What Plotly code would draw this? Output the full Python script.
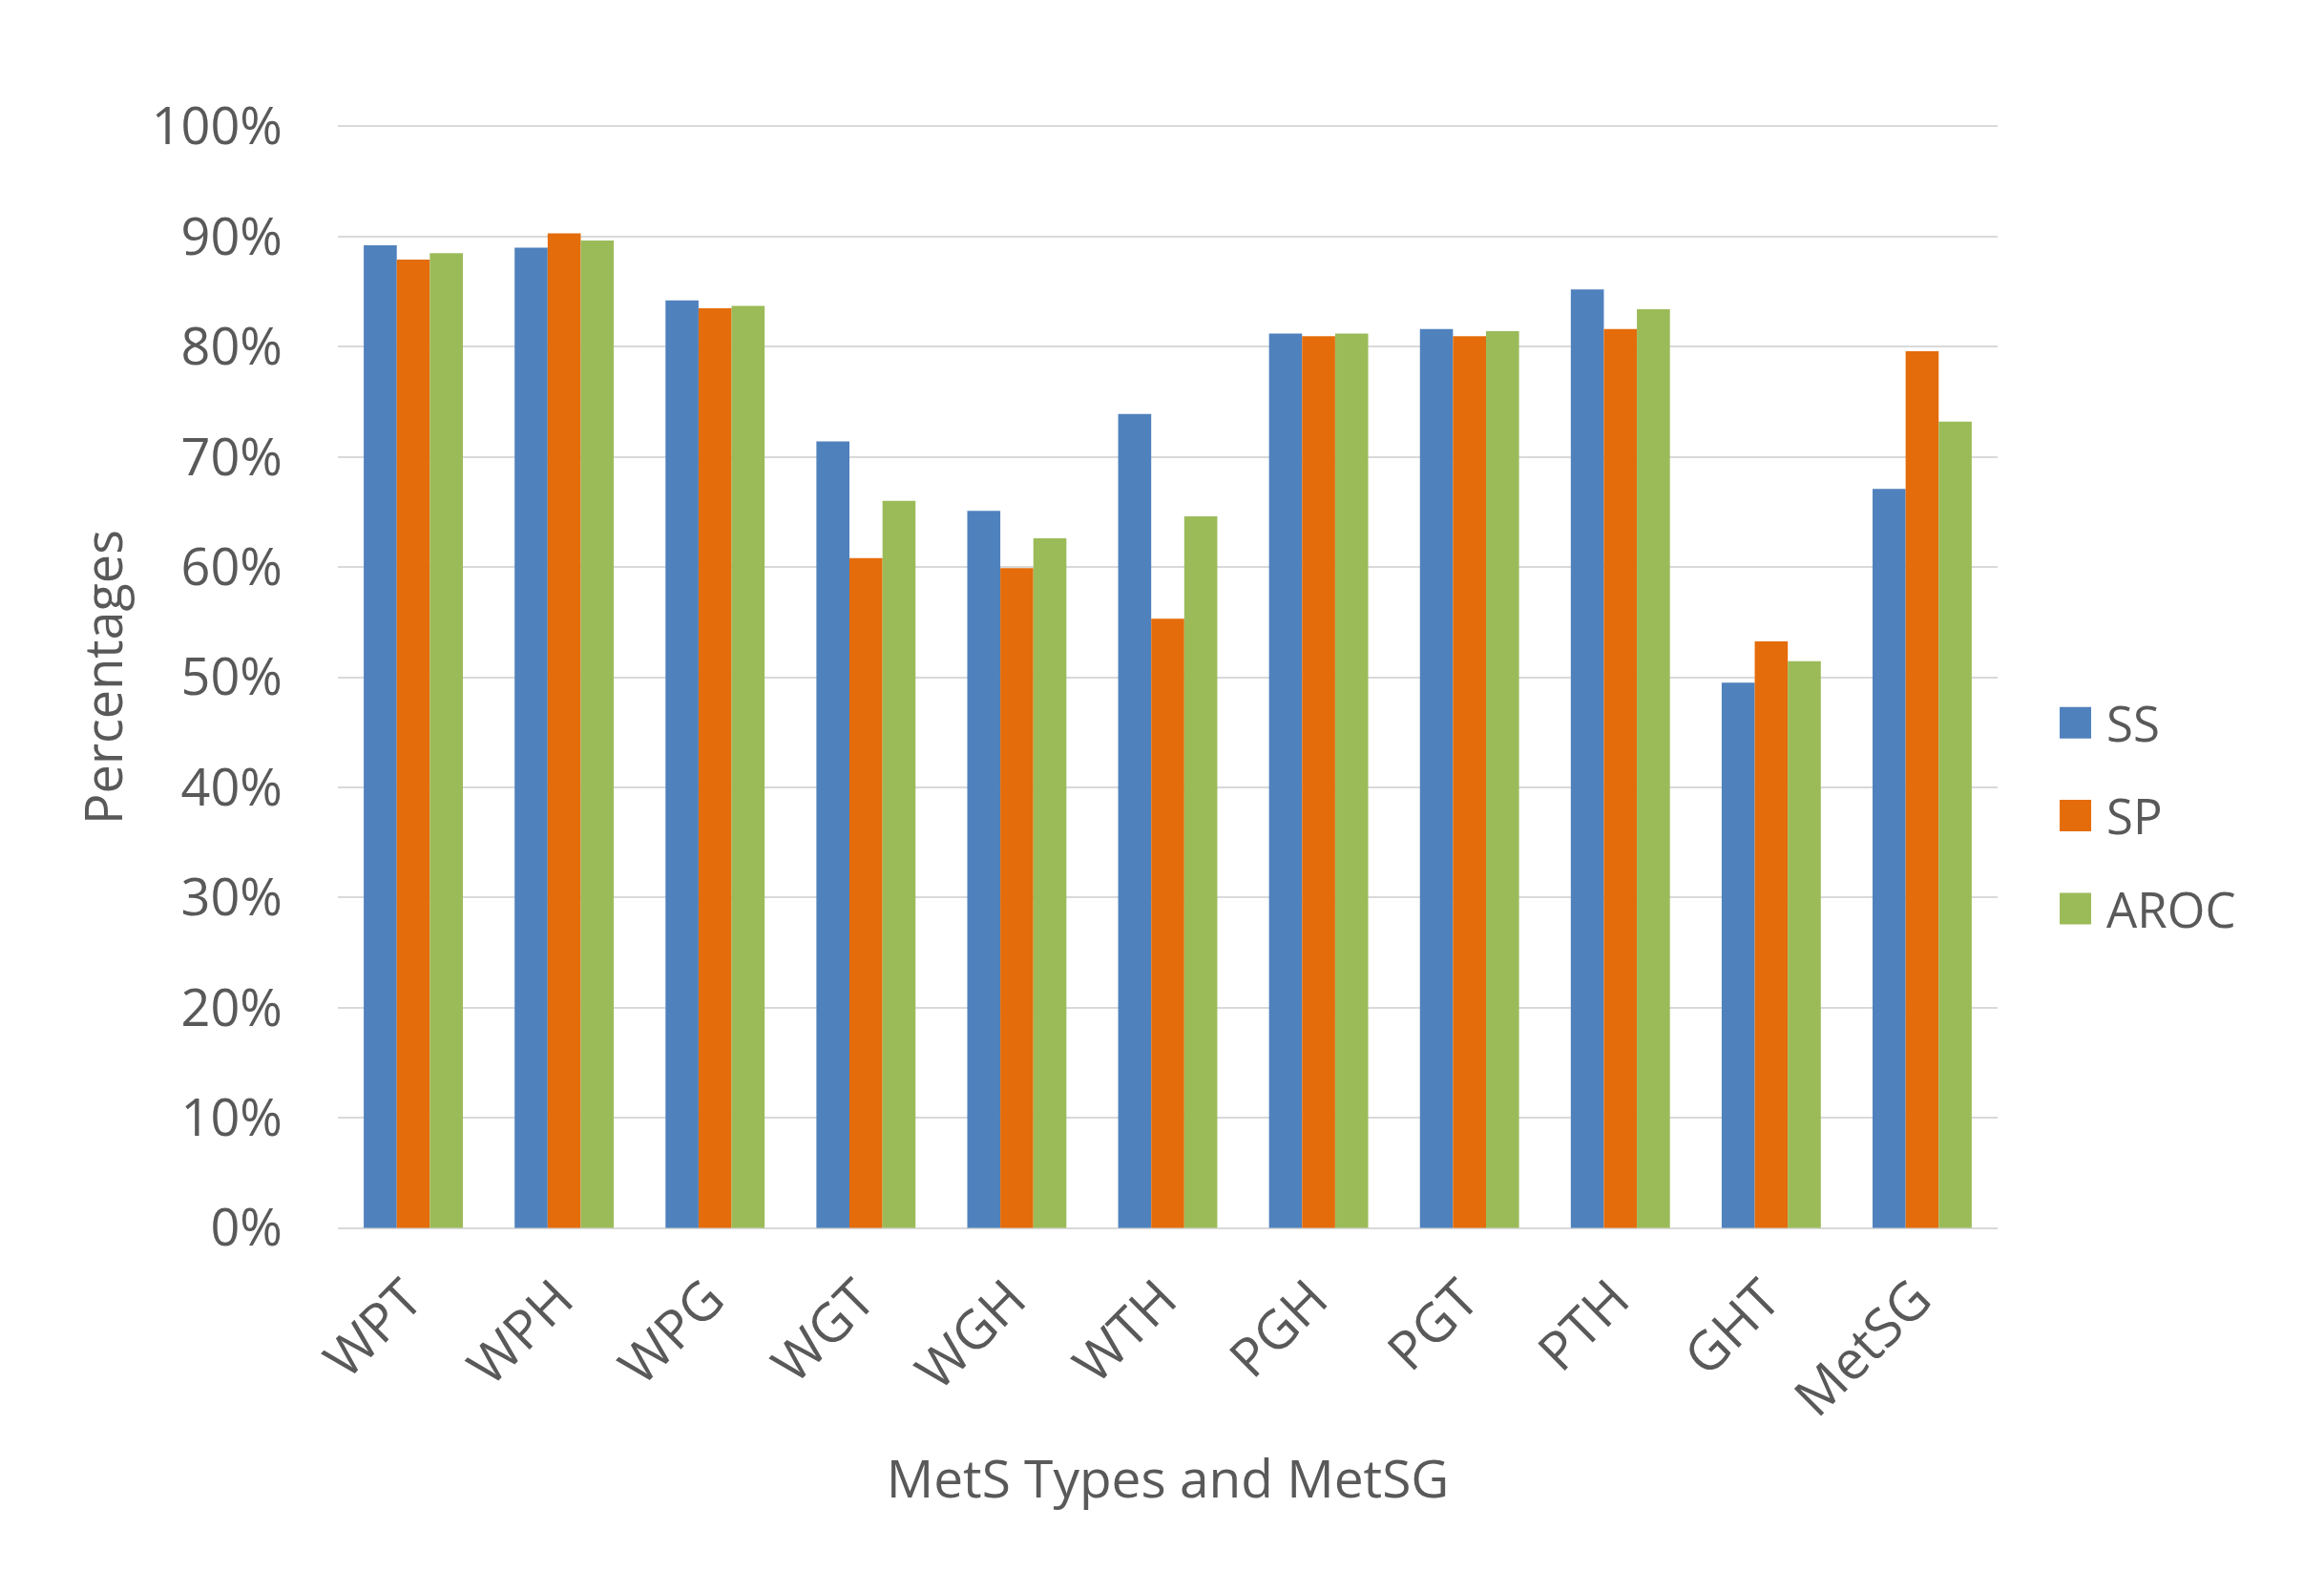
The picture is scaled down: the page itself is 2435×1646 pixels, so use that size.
import plotly.graph_objects as go

categories = ["WPT", "WPH", "WPG", "WGT", "WGH", "WTH", "PGH", "PGT", "PTH", "GHT", "MetSG"]
ss = [89.2, 89.0, 84.2, 71.4, 65.1, 73.9, 81.2, 81.6, 85.2, 49.5, 67.1]
sp = [87.9, 90.3, 83.5, 60.8, 59.9, 55.3, 80.95, 80.95, 81.6, 53.25, 79.6]
aroc = [88.5, 89.65, 83.7, 66.0, 62.6, 64.6, 81.2, 81.4, 83.4, 51.45, 73.2]
y_tick_vals = [0, 10, 20, 30, 40, 50, 60, 70, 80, 90, 100]
y_tick_text = ["0%", "10%", "20%", "30%", "40%", "50%", "60%", "70%", "80%", "90%", "100%"]

series = [("SS", ss, "#4F81BD"), ("SP", sp, "#E46C0A"), ("AROC", aroc, "#9BBB59")]

FONT = "Open Sans"
GREY = "#595959"

fig = go.Figure()
for name, vals, color in series:
    fig.add_trace(go.Bar(
        x=categories, y=vals, name=name, legendgroup=name,
        marker=dict(color=color, line=dict(width=0)),
    ))

fig.update_layout(
    width=2427, height=1638,
    paper_bgcolor="white", plot_bgcolor="white",
    margin=dict(l=346, r=342, t=121, b=356, autoexpand=False),
    barmode="group", bargap=0.343, bargroupgap=0,
    font=dict(family=FONT, color=GREY, size=52),
    legend=dict(
        x=1.0282, xanchor="left", y=0.375, yanchor="middle",
        font=dict(family=FONT, size=51, color=GREY),
        traceorder="grouped", tracegroupgap=28,
        itemwidth=55, bgcolor="rgba(0,0,0,0)", borderwidth=0,
    ),
    xaxis=dict(
        tickangle=-45, tickfont=dict(family=FONT, size=56, color=GREY),
        showgrid=False, showline=False, zeroline=False, ticks="",
        ticklabelstandoff=26, ticklabelshift=-7,
        title=dict(text="MetS Types and MetSG", font=dict(family=FONT, size=55, color=GREY), standoff=32),
        automargin=False,
    ),
    yaxis=dict(
        range=[-0.3, 100.3], tickmode="array", tickvals=y_tick_vals, ticktext=y_tick_text,
        tickfont=dict(family=FONT, size=54, color=GREY),
        showgrid=True, gridcolor="#D9D9D9", gridwidth=2,
        zeroline=False, showline=False, ticks="",
        ticklabelstandoff=57,
        title=dict(text="Percentages", font=dict(family=FONT, size=54, color=GREY), standoff=12),
        automargin=False,
    ),
)

post = """
var gd = document.getElementById('{plot_id}');
function fixLegend(){
  document.querySelectorAll('.legendpoints path').forEach(function(p){
    p.setAttribute('d', 'M16.5,16.5H-16.5V-16.5H16.5Z');
  });
}
fixLegend();
if (gd && gd.on) { gd.on('plotly_afterplot', fixLegend); }
"""
fig.write_html("out.html", post_script=post)
